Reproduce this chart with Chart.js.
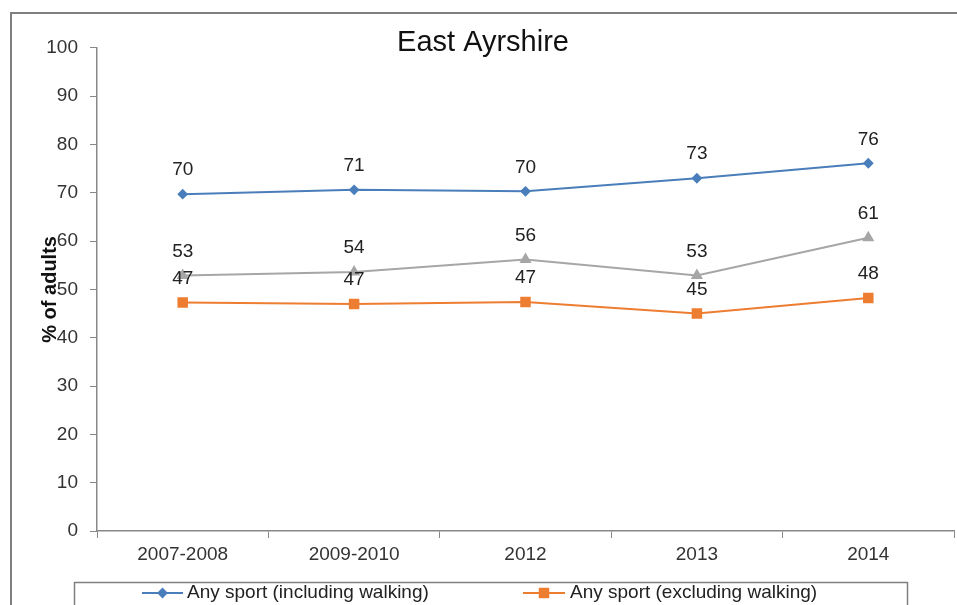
<!DOCTYPE html>
<html>
<head>
<meta charset="utf-8">
<title>East Ayrshire</title>
<script src="https://cdn.jsdelivr.net/npm/chart.js@4.4.0/dist/chart.umd.min.js"></script>
<style>
  html, body { margin: 0; padding: 0; background: #fff; overflow: hidden; }
  #wrap { width: 957px; height: 605px; }
</style>
</head>
<body>
<div id="wrap"><canvas id="sportChart" width="957" height="605"></canvas></div>
<script>
// chart text
var chartTitle = 'East Ayrshire';
var axisTitle = '% of adults';

// x categories (survey years)
var years = ['2007-2008', '2009-2010', '2012', '2013', '2014'];

// % of adults taking part, per series
var inclWalking = [69.7, 70.6, 70.3, 73.0, 76.1];
var walkingSeries = [52.9, 53.6, 56.2, 52.9, 60.7];
var exclWalking = [47.3, 47.0, 47.4, 45.0, 48.2];

// series names
var seriesNames = ['Any sport (including walking)', 'Walking (at least 30 minutes)', 'Any sport (excluding walking)'];

// y axis range
var yMin = 0;
var yMax = 100;
var yStep = 10;

var fontFamily = '"Liberation Sans", Arial, Helvetica, sans-serif';
var blue = '#4A7EBB';
var orange = '#ED7D31';
var grey = '#A6A6A6';
var axisColor = '#888888';

/* frame, value labels and the boxed legend at the foot */
var extras = {
    id: 'extras',
    beforeDraw: function(chart) {
        var ctx = chart.ctx;
        ctx.save();
        ctx.fillStyle = '#fff';
        ctx.fillRect(0, 0, chart.width, chart.height);
        ctx.strokeStyle = '#7f7f7f';
        ctx.lineWidth = 2;
        ctx.strokeRect(11, 13, chart.width + 20, chart.height + 20);
        ctx.restore();
    },
    afterDatasetsDraw: function(chart) {
        var ctx = chart.ctx;
        ctx.save();
        ctx.font = '19px ' + fontFamily;
        ctx.fillStyle = '#222';
        ctx.textAlign = 'center';
        ctx.textBaseline = 'middle';
        chart.data.datasets.forEach(function(ds, i) {
            var meta = chart.getDatasetMeta(i);
            meta.data.forEach(function(pt, j) {
                ctx.fillText(Math.round(ds.data[j]), pt.x, pt.y - 24);
            });
        });
        ctx.restore();
    },
    afterDraw: function(chart) {
        var ctx = chart.ctx;
        var items = [
            { ds: 0, lineFrom: 142, lineTo: 183, textX: 187 },
            { ds: 2, lineFrom: 523, lineTo: 565, textX: 570 }
        ];
        var y = 593;
        ctx.save();
        ctx.strokeStyle = '#7f7f7f';
        ctx.lineWidth = 1.5;
        ctx.strokeRect(74.5, 582.5, 833, 40);
        ctx.font = '19px ' + fontFamily;
        ctx.textBaseline = 'middle';
        ctx.textAlign = 'left';
        items.forEach(function(it) {
            var ds = chart.data.datasets[it.ds];
            ctx.strokeStyle = ds.borderColor;
            ctx.lineWidth = 2;
            ctx.beginPath();
            ctx.moveTo(it.lineFrom, y);
            ctx.lineTo(it.lineTo, y);
            ctx.stroke();
            ctx.fillStyle = ds.pointBackgroundColor;
            ctx.strokeStyle = ds.pointBorderColor;
            Chart.helpers.drawPoint(ctx, {
                pointStyle: ds.pointStyle,
                radius: ds.pointRadius,
                borderWidth: 1,
                rotation: 0
            }, (it.lineFrom + it.lineTo) / 2, y);
            ctx.fillStyle = '#222';
            ctx.fillText(ds.label, it.textX, y);
        });
        ctx.restore();
    }
};

var ctx = document.getElementById('sportChart');
var sportChart = new Chart(ctx, {
    type: 'line',
    data: {
        labels: years,
        datasets: [{
            label: seriesNames[0],
            data: inclWalking,
            borderColor: blue,
            backgroundColor: blue,
            pointBackgroundColor: blue,
            pointBorderColor: blue,
            pointStyle: 'rectRot',
            pointRadius: 4,
            borderWidth: 2,
            tension: 0,
            fill: false
        }, {
            label: seriesNames[1],
            data: walkingSeries,
            borderColor: grey,
            backgroundColor: grey,
            pointBackgroundColor: grey,
            pointBorderColor: grey,
            pointStyle: 'triangle',
            pointRadius: 5,
            borderWidth: 2,
            tension: 0,
            fill: false
        }, {
            label: seriesNames[2],
            data: exclWalking,
            borderColor: orange,
            backgroundColor: orange,
            pointBackgroundColor: orange,
            pointBorderColor: orange,
            pointStyle: 'rect',
            pointRadius: 6,
            borderWidth: 2,
            tension: 0,
            fill: false
        }]
    },
    options: {
        responsive: false,
        animation: false,
        devicePixelRatio: 1,
        layout: {
            autoPadding: false,
            padding: { top: 0, left: 12, right: 3, bottom: 34 }
        },
        plugins: {
            legend: { display: false },
            tooltip: { enabled: false },
            title: {
                display: true,
                text: chartTitle,
                color: '#111',
                font: { family: fontFamily, size: 29, weight: 'normal' },
                padding: { top: 26, bottom: -13 }
            }
        },
        scales: {
            x: {
                offset: true,
                grid: {
                    display: true,
                    offset: true,
                    drawOnChartArea: false,
                    drawTicks: true,
                    tickLength: 7,
                    color: axisColor
                },
                border: { display: true, color: axisColor, width: 1.5 },
                ticks: {
                    color: '#333',
                    font: { family: fontFamily, size: 19 },
                    padding: 5,
                    maxRotation: 0,
                    autoSkip: false
                },
                afterFit: function(scale) { scale.height = 40; }
            },
            y: {
                min: yMin,
                max: yMax,
                grid: {
                    display: true,
                    drawOnChartArea: false,
                    drawTicks: true,
                    tickLength: 7,
                    color: axisColor
                },
                border: { display: true, color: axisColor, width: 1.5 },
                ticks: {
                    stepSize: yStep,
                    color: '#333',
                    font: { family: fontFamily, size: 19 },
                    padding: 12
                },
                title: {
                    display: true,
                    text: axisTitle,
                    color: '#111',
                    font: { family: fontFamily, size: 20, weight: 'bold' },
                    padding: { top: 26, bottom: 0 }
                },
                afterFit: function(scale) { scale.width = 85; }
            }
        }
    },
    plugins: [extras]
});
</script>
</body>
</html>
